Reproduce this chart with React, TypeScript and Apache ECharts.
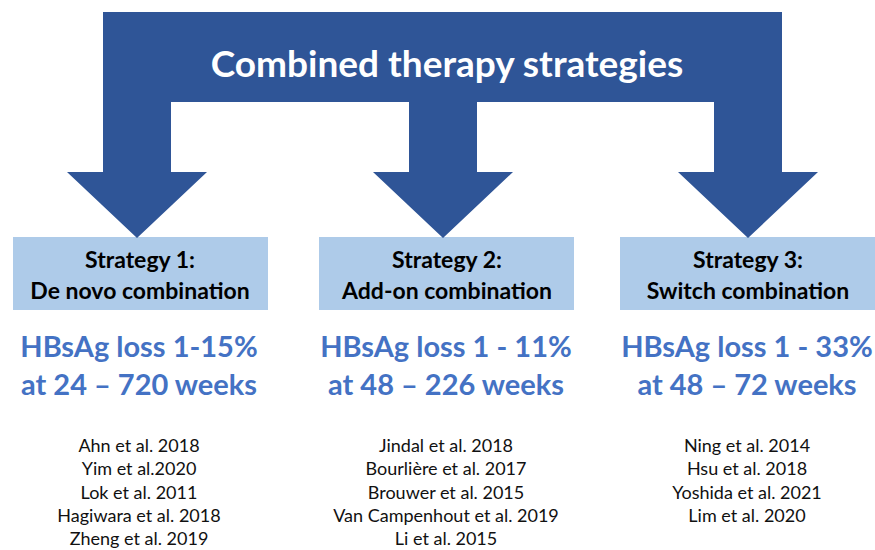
import React, { useEffect, useRef } from "react";
import * as echarts from "echarts";

const title = "Combined therapy strategies";
const strategies = ["Strategy 1:", "Strategy 2:", "Strategy 3:"];
const strategyNames = ["De novo combination", "Add-on combination", "Switch combination"];
const hbsagLoss = ["HBsAg loss 1-15%", "HBsAg loss 1 - 11%", "HBsAg loss 1 - 33%"];
const weeks = ["at 24 \u2013 720 weeks", "at 48 \u2013 226 weeks", "at 48 \u2013 72 weeks"];
const references = [
  ["Ahn et al. 2018", "Yim et al.2020", "Lok et al. 2011", "Hagiwara et al. 2018", "Zheng et al. 2019"],
  ["Jindal et al. 2018", "Bourli\u00e8re et al. 2017", "Brouwer et al. 2015", "Van Campenhout et al. 2019", "Li et al. 2015"],
  ["Ning et al. 2014", "Hsu et al. 2018", "Yoshida et al. 2021", "Lim et al. 2020"],
];

const DARK = "#2F5597";
const BOX = "#AECBE9";
const BLUE = "#4472C4";
const FONT = "Lato, 'Open Sans', sans-serif";

export default function App() {
  const ref = useRef<HTMLDivElement>(null);
  useEffect(() => {
    document.body.style.margin = "0";
    const chart = echarts.init(ref.current!, null, { renderer: "svg" });

    const armCenters = [137, 443, 748];
    const colCenters = [140, 447, 748];
    const boxes = [
      [13, 268],
      [319, 574],
      [620, 875],
    ];
    const armHalf = 34;
    const headHalf = 70;
    const top = 12, barBottom = 102, headBase = 172, tip = 238;
    const left = armCenters[0] - armHalf, right = armCenters[2] + armHalf;

    const pts: number[][] = [[left, top], [right, top]];
    const rc = armCenters[2];
    pts.push([right, headBase], [rc + headHalf, headBase], [rc, tip], [rc - headHalf, headBase], [rc - armHalf, headBase], [rc - armHalf, barBottom]);
    const mc = armCenters[1];
    pts.push([mc + armHalf, barBottom], [mc + armHalf, headBase], [mc + headHalf, headBase], [mc, tip], [mc - headHalf, headBase], [mc - armHalf, headBase], [mc - armHalf, barBottom]);
    const lc = armCenters[0];
    pts.push([lc + armHalf, barBottom], [lc + armHalf, headBase], [lc + headHalf, headBase], [lc, tip], [lc - headHalf, headBase], [left, headBase]);

    const elements: any[] = [];
    strategies.forEach((s, i) => {
      elements.push({
        type: "rect",
        shape: { x: boxes[i][0], y: 237, width: boxes[i][1] - boxes[i][0], height: 73 },
        style: { fill: BOX },
        z: 1,
      });
    });
    elements.push({
      type: "polygon",
      shape: { points: pts },
      style: { fill: DARK },
      z: 2,
    });
    elements.push({
      type: "text",
      x: 447,
      y: 62,
      style: { text: title, fill: "#fff", font: `bold 37px ${FONT}`, align: "center", verticalAlign: "middle" },
      z: 3,
    });
    strategies.forEach((s, i) => {
      const cx = colCenters[i];
      elements.push({
        type: "text", x: cx, y: 259,
        style: { text: s, fill: "#000", font: `bold 23px ${FONT}`, align: "center", verticalAlign: "middle" }, z: 3,
      });
      elements.push({
        type: "text", x: cx, y: 290,
        style: { text: strategyNames[i], fill: "#000", font: `bold 23px ${FONT}`, align: "center", verticalAlign: "middle" }, z: 3,
      });
      elements.push({
        type: "text", x: cx - 1, y: 345,
        style: { text: hbsagLoss[i], fill: BLUE, font: `bold 29px ${FONT}`, align: "center", verticalAlign: "middle" }, z: 3,
      });
      elements.push({
        type: "text", x: cx - 1, y: 383,
        style: { text: weeks[i], fill: BLUE, font: `bold 29px ${FONT}`, align: "center", verticalAlign: "middle" }, z: 3,
      });
      references[i].forEach((r, j) => {
        elements.push({
          type: "text", x: cx - 1, y: 445 + j * 23.3,
          style: { text: r, fill: "#111", font: `18px ${FONT}`, align: "center", verticalAlign: "middle" }, z: 3,
        });
      });
    });

    chart.setOption({
      animation: false,
      backgroundColor: "#fff",
      graphic: { elements },
    });
    return () => chart.dispose();
  }, []);
  return <div ref={ref} style={{ width: 875, height: 550 }} />;
}
